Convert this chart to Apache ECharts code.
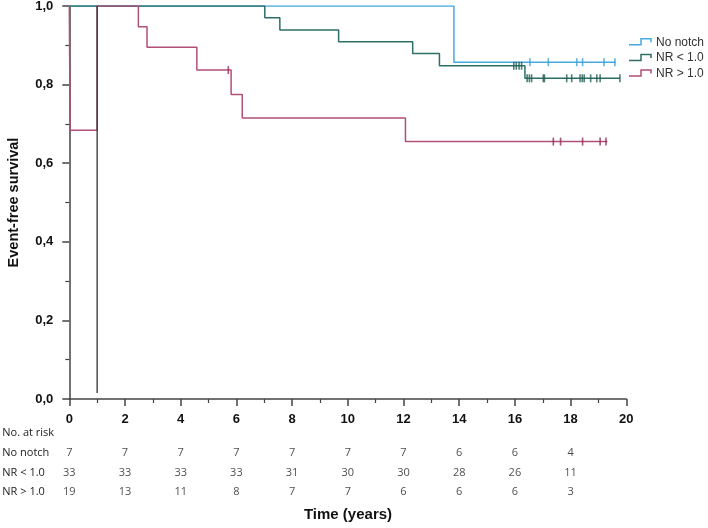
<!DOCTYPE html>
<html>
<head>
<meta charset="utf-8">
<script src="https://cdn.jsdelivr.net/npm/echarts@6/dist/echarts.min.js"></script>
<style>html,body{margin:0;padding:0;background:#fff}#c{width:708px;height:528px}</style>
</head>
<body>
<div id="c"></div>
<script>
// ---- Data ----
const seriesNames = ['No notch', 'NR < 1.0', 'NR > 1.0'];

const noNotchTimes = [0, 13.81, 19.62];
const noNotchSurv  = [1.0, 0.857, 0.857];
const noNotchCensorTimes = [16.54, 17.2, 18.22, 18.43, 19.2, 19.59];
const noNotchCensorSurv  = [0.857, 0.857, 0.857, 0.857, 0.857, 0.857];

const nrLowTimes = [0, 7.02, 7.56, 9.67, 12.33, 13.29, 16.36, 19.77];
const nrLowSurv  = [1.0, 0.970, 0.939, 0.909, 0.879, 0.848, 0.816, 0.816];
const nrLowCensorTimes = [15.96, 16.05, 16.15, 16.24, 16.44, 16.52, 16.60, 17.02, 17.06, 17.86, 18.04, 18.34, 18.42, 18.49, 18.72, 18.94, 19.06, 19.77];
const nrLowCensorSurv  = [0.848, 0.848, 0.848, 0.848, 0.816, 0.816, 0.816, 0.816, 0.816, 0.816, 0.816, 0.816, 0.816, 0.816, 0.816, 0.816, 0.816, 0.816];

const nrHighTimes = [0, 0.03, 1, 1, 2.48, 2.79, 4.58, 5.81, 6.21, 12.07, 19.32];
const nrHighSurv  = [1.0, 0.684, 0.684, 1.0, 0.947, 0.895, 0.837, 0.775, 0.715, 0.655, 0.655];
const nrHighCensorTimes = [5.71, 17.38, 17.64, 18.43, 19.06, 19.27];
const nrHighCensorSurv  = [0.837, 0.655, 0.655, 0.655, 0.655, 0.655];

const refLineTimes = [1, 1];
const refLineSurv  = [1.0, 0.015];

const riskRows = ['No. at risk', 'No notch', 'NR < 1.0', 'NR > 1.0'];
const riskYears = [0, 2, 4, 6, 8, 10, 12, 14, 16, 18];
const riskNoNotch = [7, 7, 7, 7, 7, 7, 7, 6, 6, 4];
const riskNRLow   = [33, 33, 33, 33, 31, 30, 30, 28, 26, 11];
const riskNRHigh  = [19, 13, 11, 8, 7, 7, 6, 6, 6, 3];

const colors = ['#47aadf', '#2c6f66', '#b04f78'];
const censorColors = ['#3c9fd6', '#245f57', '#952a52'];

// ---- Build ----
const zip = (a, b) => a.map((v, i) => [v, b[i]]);
const chart = echarts.init(document.getElementById('c'), null, {renderer: 'canvas'});

function stepSeries(name, t, s, color) {
  return {
    name, type: 'line', step: 'end', data: zip(t, s), symbol: 'none',
    lineStyle: {color, width: 1.5}, xAxisIndex: 0, yAxisIndex: 0, z: 3, silent: true
  };
}
function censorSeries(t, s, color) {
  return {
    type: 'scatter', data: zip(t, s), symbol: 'rect', symbolSize: [1.6, 8],
    itemStyle: {color}, xAxisIndex: 0, yAxisIndex: 0, z: 4, silent: true
  };
}
function riskSeries(row, vals) {
  return {
    type: 'scatter', xAxisIndex: 1, yAxisIndex: 1, symbolSize: 1,
    itemStyle: {color: 'rgba(0,0,0,0)'},
    data: riskYears.map((y, i) => [y, row, vals[i]]),
    label: {show: true, position: 'inside', formatter: p => String(p.value[2]),
      fontFamily: 'Open Sans', fontSize: 11, color: '#222'},
    silent: true
  };
}

const fmt = v => v.toFixed(1).replace('.', ',');

const legendGraphics = [];
seriesNames.forEach((n, i) => {
  const cy = 42.3 + i * 15.6;
  legendGraphics.push({
    type: 'polyline',
    shape: {points: [[629, cy + 2.5], [641, cy + 2.5], [641, cy - 3.5], [651, cy - 3.5], [651, cy]]},
    style: {stroke: colors[i], lineWidth: 1.5, fill: null}
  });
  legendGraphics.push({
    type: 'text', x: 656, y: cy,
    style: {text: n, fontFamily: 'Liberation Sans, Arial', fontSize: 12, fill: '#333', textVerticalAlign: 'middle', textAlign: 'left'}
  });
});
legendGraphics.push({
  type: 'text', x: 348, y: 515,
  style: {text: 'Time (years)', fontFamily: 'Liberation Sans, Arial', fontWeight: 'bold', fontSize: 15, fill: '#111', textAlign: 'center', textVerticalAlign: 'middle'}
});

const option = {
  animation: false,
  backgroundColor: '#fff',
  grid: [
    {left: 69.3, right: 81.7, top: 6, bottom: 129, containLabel: false, outerBoundsMode: 'none'},
    {left: 69.3, right: 81.7, top: 423, height: 79.2, containLabel: false, outerBoundsMode: 'none'}
  ],
  xAxis: [
    {
      type: 'value', gridIndex: 0, min: 0, max: 20, interval: 2,
      axisLine: {show: true, onZero: false, lineStyle: {color: '#444', width: 1.5}},
      axisTick: {show: true, length: 7, lineStyle: {color: '#444', width: 1.5}},
      minorTick: {show: true, splitNumber: 2, length: 4, lineStyle: {color: '#444', width: 1.2}},
      axisLabel: {fontFamily: 'Liberation Sans, Arial', fontWeight: 'bold', fontSize: 13, color: '#111', margin: 14},
      splitLine: {show: false}
    },
    {
      type: 'value', gridIndex: 1, min: 0, max: 20, show: false
    }
  ],
  yAxis: [
    {
      type: 'value', gridIndex: 0, min: 0, max: 1, interval: 0.2,
      name: 'Event-free survival', nameLocation: 'middle', nameGap: 48,
      nameTextStyle: {fontFamily: 'Liberation Sans, Arial', fontWeight: 'bold', fontSize: 14.5, color: '#111'},
      axisLine: {show: true, onZero: false, lineStyle: {color: '#444', width: 1.5}},
      axisTick: {show: true, length: 7, lineStyle: {color: '#444', width: 1.5}},
      minorTick: {show: true, splitNumber: 2, length: 4, lineStyle: {color: '#444', width: 1.2}},
      axisLabel: {fontFamily: 'Liberation Sans, Arial', fontWeight: 'bold', fontSize: 13, color: '#111', margin: 16, formatter: fmt},
      splitLine: {show: false}
    },
    {
      type: 'category', gridIndex: 1, data: riskRows, inverse: true,
      axisLine: {show: false}, axisTick: {show: false}, splitLine: {show: false},
      axisLabel: {align: 'left', margin: 67, fontFamily: 'Open Sans', fontSize: 11, color: '#222'}
    }
  ],
  series: [
    stepSeries(seriesNames[0], noNotchTimes, noNotchSurv, colors[0]),
    stepSeries(seriesNames[1], nrLowTimes, nrLowSurv, colors[1]),
    stepSeries(seriesNames[2], nrHighTimes, nrHighSurv, colors[2]),
    censorSeries(noNotchCensorTimes, noNotchCensorSurv, censorColors[0]),
    censorSeries(nrLowCensorTimes, nrLowCensorSurv, censorColors[1]),
    censorSeries(nrHighCensorTimes, nrHighCensorSurv, censorColors[2]),
    {
      type: 'line', data: zip(refLineTimes, refLineSurv), symbol: 'none',
      lineStyle: {color: '#333', width: 1.3}, z: 5, silent: true
    },
    riskSeries('No notch', riskNoNotch),
    riskSeries('NR < 1.0', riskNRLow),
    riskSeries('NR > 1.0', riskNRHigh)
  ],
  graphic: legendGraphics
};
chart.setOption(option);
</script>
</body>
</html>
